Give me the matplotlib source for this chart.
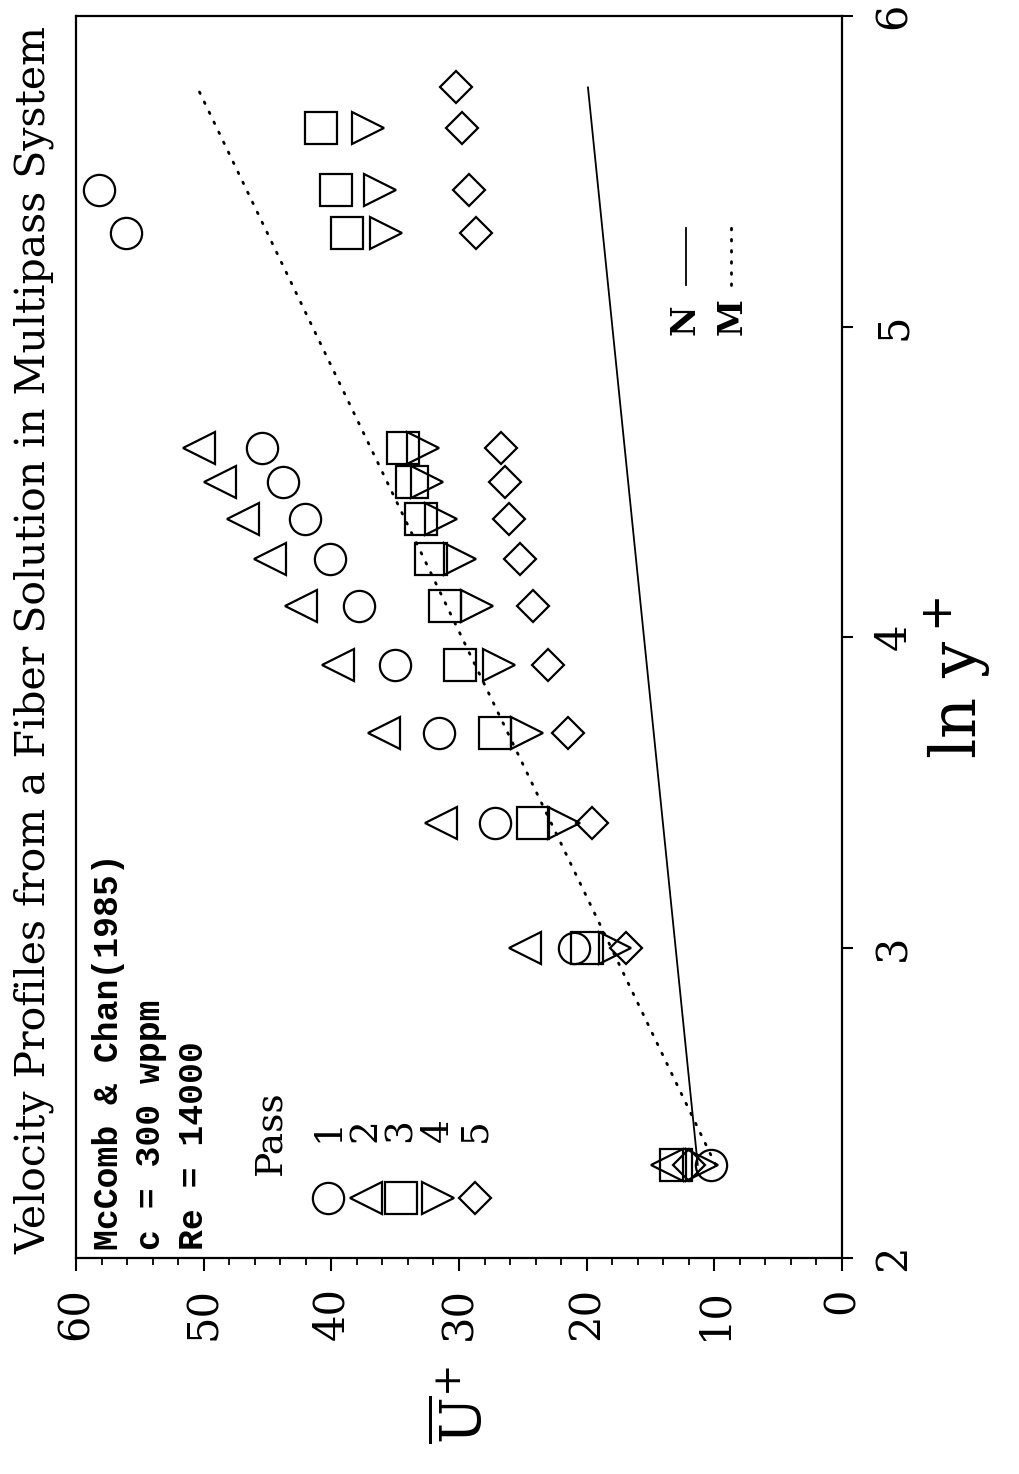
import matplotlib
matplotlib.use('Agg')
import matplotlib.pyplot as plt
from matplotlib.ticker import MultipleLocator

# measured velocity profiles, one pair of lists per pass
pass1_lny = [2.30, 3.00, 3.40, 3.69, 3.91, 4.10, 4.25, 4.38, 4.50, 4.61, 5.30, 5.44]
pass1_u = [10.3, 21.0, 27.2, 31.6, 35.0, 37.8, 40.1, 42.1, 43.8, 45.4, 56.1, 58.2]
pass2_lny = [2.30, 3.00, 3.40, 3.69, 3.91, 4.10, 4.25, 4.38, 4.50, 4.61]
pass2_u = [13.7, 24.8, 31.4, 35.9, 39.5, 42.4, 44.8, 46.9, 48.7, 50.4]
pass3_lny = [2.30, 3.00, 3.40, 3.69, 3.91, 4.10, 4.25, 4.38, 4.50, 4.61, 5.30, 5.44, 5.64]
pass3_u = [13.0, 20.0, 24.2, 27.2, 29.9, 31.1, 32.2, 33.0, 33.7, 34.4, 38.8, 39.6, 40.8]
pass4_lny = [2.30, 3.00, 3.40, 3.69, 3.91, 4.10, 4.25, 4.38, 4.50, 4.61, 5.30, 5.44, 5.64]
pass4_u = [11.0, 17.8, 21.8, 24.7, 26.9, 28.6, 29.9, 31.4, 32.5, 32.8, 35.7, 36.2, 37.1]
pass5_lny = [2.30, 3.00, 3.40, 3.69, 3.91, 4.10, 4.25, 4.38, 4.50, 4.61, 5.30, 5.44, 5.64, 5.77]
pass5_u = [12.0, 16.9, 19.6, 21.5, 23.0, 24.2, 25.2, 26.1, 26.4, 26.7, 28.7, 29.2, 29.8, 30.2]

# Newtonian law of the wall (N) and maximum drag reduction asymptote (M)
n_lny = [2.30, 5.77]
n_u = [11.3, 19.9]
m_lny = [2.30, 5.77]
m_u = [9.9, 50.5]

u_ticks = [0, 10, 20, 30, 40, 50, 60]
lny_ticks = [2, 3, 4, 5, 6]
pass_labels = ['1', '2', '3', '4', '5']

W, H = 1019, 1474


def fx(px):
    return px / W


def fy(py):
    return 1 - py / H


plt.rcParams['mathtext.fontset'] = 'dejavuserif'
serif = 'DejaVu Serif'
mono = 'Liberation Mono'

fig = plt.figure(figsize=(W / 100, H / 100), dpi=100)
ax = fig.add_axes([fx(76), fy(1258), fx(842) - fx(76), fy(16) - fy(1258)])

styles = [('o', 22.5, pass1_lny, pass1_u),
          ('<', 22.5, pass2_lny, pass2_u),
          ('s', 23.0, pass3_lny, pass3_u),
          ('>', 22.5, pass4_lny, pass4_u),
          ('D', 16.8, pass5_lny, pass5_u)]

for marker, ms, lny, u in styles:
    ax.plot(u, lny, linestyle='none', marker=marker, ms=ms, mfc='none',
            mec='black', mew=1.6)

ax.plot(n_u, n_lny, color='black', lw=1.3)
ax.plot(m_u, m_lny, color='black', lw=2.0, linestyle=(0, (0.6, 3.4)),
        dash_capstyle='round')

ax.set_xlim(60, 0)
ax.set_ylim(2, 6)
ax.set_xticks(u_ticks)
ax.set_xticklabels([str(t) for t in u_ticks])
ax.xaxis.set_minor_locator(MultipleLocator(2))
ax.yaxis.tick_right()
ax.set_yticks(lny_ticks)
ax.set_yticklabels([str(t) for t in lny_ticks])
ax.yaxis.set_minor_locator(plt.NullLocator())

ax.tick_params(axis='x', which='major', direction='out', length=9, width=1.5,
               pad=12, labelsize=30, labelrotation=90)
ax.tick_params(axis='x', which='minor', direction='out', length=5, width=1.3)
ax.tick_params(axis='y', which='major', direction='out', length=8, width=1.5,
               pad=14, labelsize=30, labelrotation=90)
for lab in ax.get_xticklabels() + ax.get_yticklabels():
    lab.set_family(serif)
for lab in ax.get_yticklabels():
    lab.set_verticalalignment('center')
for sp in ax.spines.values():
    sp.set_linewidth(1.6)

# legend keys for the passes
key_x = [0.329, 0.378, 0.424, 0.472, 0.521]
for (marker, ms, _, _), kx, lab in zip(styles, key_x, pass_labels):
    ax.plot([kx], [0.048], transform=ax.transAxes, marker=marker, ms=ms,
            mfc='none', mec='black', mew=1.6, clip_on=False)
    ax.text(kx, 0.103, lab, transform=ax.transAxes, rotation=90, ha='center',
            va='center', fontsize=27, family=serif)
fig.text(fx(280), fy(1175), 'Pass', rotation=90, rotation_mode='anchor',
         ha='left', va='baseline', fontsize=27, family=serif)

# line keys
fig.lines.append(plt.Line2D([fx(686), fx(686)], [fy(285), fy(228)],
                            transform=fig.transFigure, color='black', lw=1.3))
fig.lines.append(plt.Line2D([fx(731), fx(731)], [fy(285), fy(225)],
                            transform=fig.transFigure, color='black', lw=2.0,
                            linestyle=(0, (0.6, 3.4)), dash_capstyle='round'))
fig.text(fx(694), fy(335), 'N', rotation=90, rotation_mode='anchor',
         ha='left', va='baseline', fontsize=24, family=serif, weight='bold')
fig.text(fx(742), fy(335), 'M', rotation=90, rotation_mode='anchor',
         ha='left', va='baseline', fontsize=24, family=serif, weight='bold')

# source notes
fig.text(fx(118), fy(1250), 'McComb & Chan(1985)', rotation=90,
         rotation_mode='anchor', ha='left', va='baseline', fontsize=25,
         family=mono, weight='bold')
fig.text(fx(160), fy(1250), 'c = 300 wppm', rotation=90,
         rotation_mode='anchor', ha='left', va='baseline', fontsize=25,
         family=mono, weight='bold')
fig.text(fx(203), fy(1250), 'Re = 14000', rotation=90,
         rotation_mode='anchor', ha='left', va='baseline', fontsize=25,
         family=mono, weight='bold')

fig.text(fx(45), fy(1254), 'Velocity Profiles from a Fiber Solution in Multipass System',
         rotation=90, rotation_mode='anchor', ha='left', va='baseline',
         fontsize=29.5, family=serif)

fig.text(fx(958), fy(678), r'ln y$^+$', rotation=90, ha='center', va='center',
         fontsize=46, family=serif)
fig.text(fx(465), fy(1405), r'$\overline{\mathrm{U}}^{+}$', rotation=90,
         ha='center', va='center', fontsize=40)

fig.savefig('out.png', dpi=100)
